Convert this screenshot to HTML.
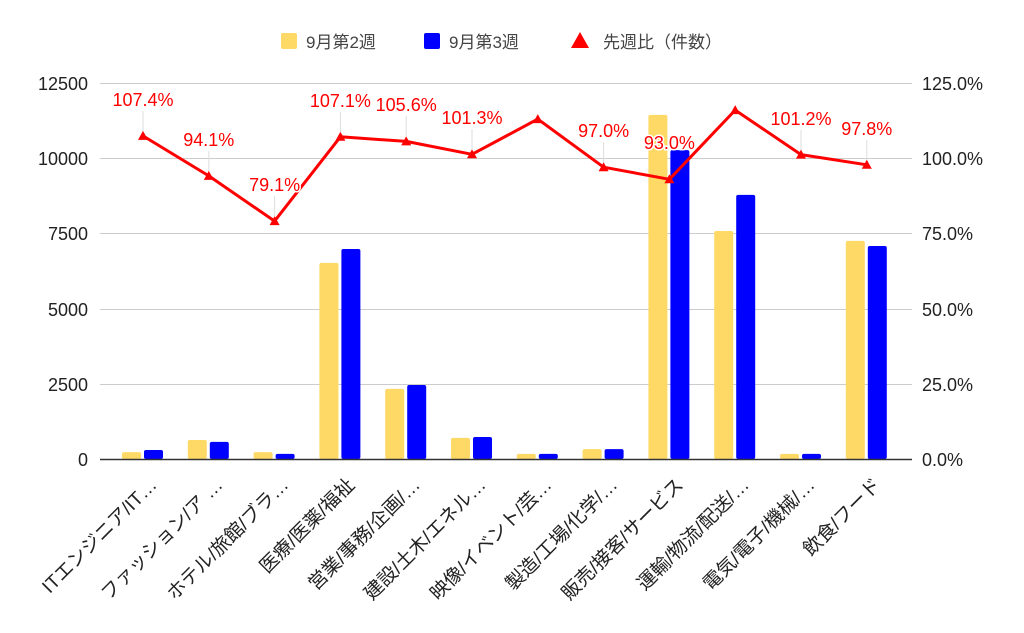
<!DOCTYPE html>
<html><head><meta charset="utf-8"><style>
html,body{margin:0;padding:0;background:#fff}
svg{display:block;font-family:"Liberation Sans","Noto Sans CJK JP",sans-serif}
</style></head><body>
<svg width="1024" height="633" viewBox="0 0 1024 633">
<!-- legend -->
<rect x="281" y="33" width="16" height="16" rx="2" fill="#ffd966"/>
<text x="306" y="48" font-size="17" fill="#444">9月第2週</text>
<rect x="424" y="33" width="16" height="16" rx="2" fill="#0000ff"/>
<text x="449" y="48" font-size="17" fill="#444">9月第3週</text>
<polygon points="580,32 589,48 571,48" fill="#ff0000"/>
<text x="603" y="48" font-size="17" fill="#444">先週比（件数）</text>
<!-- grid -->
<g stroke="#ccc" stroke-width="1">
<line x1="100" x2="912" y1="83.5" y2="83.5"/>
<line x1="100" x2="912" y1="158.5" y2="158.5"/>
<line x1="100" x2="912" y1="233.5" y2="233.5"/>
<line x1="100" x2="912" y1="309.5" y2="309.5"/>
<line x1="100" x2="912" y1="384.5" y2="384.5"/>
</g>
<g font-size="18" fill="#222" text-anchor="end">
<text x="88" y="90">12500</text><text x="88" y="165">10000</text><text x="88" y="240">7500</text>
<text x="88" y="316">5000</text><text x="88" y="391">2500</text><text x="88" y="466">0</text>
</g>
<g font-size="18" fill="#222">
<text x="922" y="90">125.0%</text><text x="922" y="165">100.0%</text><text x="922" y="240">75.0%</text>
<text x="922" y="316">50.0%</text><text x="922" y="391">25.0%</text><text x="922" y="466">0.0%</text>
</g>
<!-- bars -->
<g fill="#ffd966">
<rect x="122" y="452.1" width="19" height="6.9" rx="2"/>
<rect x="187.8" y="440" width="19" height="19" rx="2"/>
<rect x="253.6" y="452.1" width="19" height="6.9" rx="2"/>
<rect x="319.4" y="262.9" width="19" height="196.1" rx="2"/>
<rect x="385.2" y="388.9" width="19" height="70.1" rx="2"/>
<rect x="451" y="437.9" width="19" height="21.1" rx="2"/>
<rect x="516.8" y="453.9" width="19" height="5.1" rx="2"/>
<rect x="582.6" y="449.1" width="19" height="9.9" rx="2"/>
<rect x="648.4" y="114.9" width="19" height="344.1" rx="2"/>
<rect x="714.2" y="231" width="19" height="228" rx="2"/>
<rect x="780" y="453.9" width="19" height="5.1" rx="2"/>
<rect x="845.8" y="240.9" width="19" height="218.1" rx="2"/>
</g>
<g fill="#0000ff">
<rect x="144" y="450" width="19" height="9" rx="2"/>
<rect x="209.8" y="441.9" width="19" height="17.1" rx="2"/>
<rect x="275.6" y="453.9" width="19" height="5.1" rx="2"/>
<rect x="341.4" y="249" width="19" height="210" rx="2"/>
<rect x="407.2" y="385" width="19" height="74" rx="2"/>
<rect x="473" y="437" width="19" height="22" rx="2"/>
<rect x="538.8" y="453.9" width="19" height="5.1" rx="2"/>
<rect x="604.6" y="449.1" width="19" height="9.9" rx="2"/>
<rect x="670.4" y="150.1" width="19" height="308.9" rx="2"/>
<rect x="736.2" y="194.9" width="19" height="264.1" rx="2"/>
<rect x="802" y="453.9" width="19" height="5.1" rx="2"/>
<rect x="867.8" y="246" width="19" height="213" rx="2"/>
</g>
<line x1="100" x2="912" y1="459.5" y2="459.5" stroke="#333" stroke-width="1.5"/>
<!-- leader lines -->
<g stroke="#ddd" stroke-width="1">
<line x1="143" x2="143" y1="111" y2="131"/>
<line x1="208.8" x2="208.8" y1="151" y2="171"/>
<line x1="274.6" x2="274.6" y1="196" y2="216"/>
<line x1="340.4" x2="340.4" y1="112" y2="132"/>
<line x1="406.2" x2="406.2" y1="116" y2="136"/>
<line x1="472" x2="472" y1="129" y2="149"/>
<line x1="603.6" x2="603.6" y1="142" y2="162"/>
<line x1="801" x2="801" y1="130" y2="150"/>
<line x1="866.8" x2="866.8" y1="140" y2="160"/>
</g>
<!-- line -->
<polyline fill="none" stroke="#ff0000" stroke-width="3" stroke-linejoin="round" points="143,135.9 208.8,175.9 274.6,221.1 340.4,136.8 406.2,141.4 472,154.3 537.8,119.1 603.6,167.2 669.4,179.3 735.2,110.1 801,154.6 866.8,164.8"/>
<g fill="#ff0000">
<polygon points="143,130.9 148,139.9 138,139.9"/>
<polygon points="208.8,170.9 213.8,179.9 203.8,179.9"/>
<polygon points="274.6,216.1 279.6,225.1 269.6,225.1"/>
<polygon points="340.4,131.8 345.4,140.8 335.4,140.8"/>
<polygon points="406.2,136.4 411.2,145.4 401.2,145.4"/>
<polygon points="472,149.3 477,158.3 467,158.3"/>
<polygon points="537.8,114.1 542.8,123.1 532.8,123.1"/>
<polygon points="603.6,162.2 608.6,171.2 598.6,171.2"/>
<polygon points="669.4,174.3 674.4,183.3 664.4,183.3"/>
<polygon points="735.2,105.1 740.2,114.1 730.2,114.1"/>
<polygon points="801,149.6 806,158.6 796,158.6"/>
<polygon points="866.8,159.8 871.8,168.8 861.8,168.8"/>
</g>
<g font-size="18" fill="#ff0000" text-anchor="middle" stroke="#fff" stroke-width="3" paint-order="stroke">
<text x="143" y="106">107.4%</text>
<text x="208.8" y="146">94.1%</text>
<text x="274.6" y="191">79.1%</text>
<text x="340.4" y="107">107.1%</text>
<text x="406.2" y="111">105.6%</text>
<text x="472" y="124">101.3%</text>
<text x="603.6" y="137">97.0%</text>
<text x="669.4" y="149">93.0%</text>
<text x="801" y="125">101.2%</text>
<text x="866.8" y="135">97.8%</text>
</g>
<!-- x labels -->
<g font-size="19" fill="#222" text-anchor="end">
<text transform="translate(158,486) rotate(-45)">ITエンジニア/IT…</text>
<text transform="translate(223.8,486) rotate(-45)">ファッション/ア …</text>
<text transform="translate(289.6,486) rotate(-45)">ホテル/旅館/ブラ…</text>
<text transform="translate(355.4,486) rotate(-45)">医療/医薬/福祉</text>
<text transform="translate(421.2,486) rotate(-45)">営業/事務/企画/…</text>
<text transform="translate(487,486) rotate(-45)">建設/土木/エネル…</text>
<text transform="translate(552.8,486) rotate(-45)">映像/イベント/芸…</text>
<text transform="translate(618.6,486) rotate(-45)">製造/工場/化学/…</text>
<text transform="translate(684.4,486) rotate(-45)">販売/接客/サービス</text>
<text transform="translate(750.2,486) rotate(-45)">運輸/物流/配送/…</text>
<text transform="translate(816,486) rotate(-45)">電気/電子/機械/…</text>
<text transform="translate(881.8,486) rotate(-45)">飲食/フード</text>
</g>
</svg>
</body></html>
